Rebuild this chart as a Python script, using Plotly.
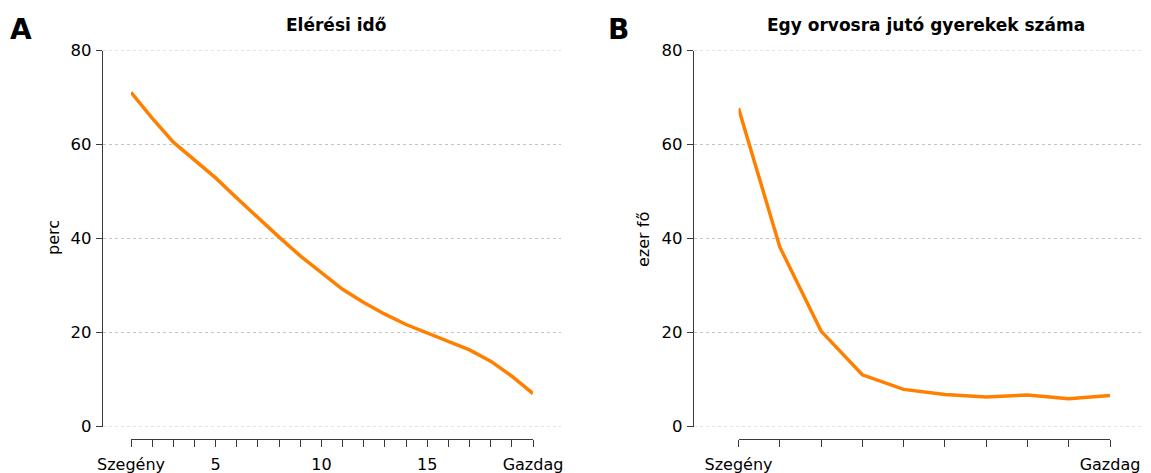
import plotly.graph_objects as go

# Panel A: travel time (minutes) by income vigintile
time_x = list(range(1, 21))
time_min = [71.1, 65.6, 60.5, 56.7, 52.9, 48.6, 44.4, 40.3, 36.3, 32.8,
            29.2, 26.4, 23.9, 21.7, 19.9, 18.3, 16.3, 13.9, 10.7, 7.0]
time_tickvals = [1, 5, 10, 15, 20]
time_ticktext = ["Szegény", "5", "10", "15", "Gazdag"]

# Panel B: children per doctor (thousand) by income decile
doc_x = list(range(1, 11))
doc_children = [67.7, 38.2, 20.3, 11.0, 7.9, 6.8, 6.3, 6.7, 5.9, 6.6]
doc_tickvals = [1, 10]
doc_ticktext = ["Szegény", "Gazdag"]

y_ticks = [0, 20, 40, 60, 80]

# the page body keeps its default 8px margin, so the figure is drawn 8px in
OFF = 8
W, H = 1151 - OFF, 473 - OFF
ORANGE = "#ff8000"
AXIS = "#3a3a3a"
FONT = "DejaVu Sans"


def fx(px):
    return (px - OFF) / W


def fy(py):
    return 1 - (py - OFF) / H


fig = go.Figure()
fig.add_trace(go.Scatter(x=time_x, y=time_min, mode="lines",
                         line=dict(color=ORANGE, width=3.5),
                         xaxis="x", yaxis="y", showlegend=False))
fig.add_trace(go.Scatter(x=doc_x, y=doc_children, mode="lines",
                         line=dict(color=ORANGE, width=3.5),
                         xaxis="x2", yaxis="y2", showlegend=False))


def xaxis_style(domain, rng, tickvals, ticktext):
    return dict(
        domain=domain, range=rng, anchor="free", position=fy(439),
        automargin=False,
        showline=True, linecolor=AXIS, linewidth=1.2,
        ticks="outside", ticklen=7, tickcolor=AXIS, tickwidth=1,
        tickvals=tickvals, ticktext=ticktext,
        minor=dict(dtick=1, tick0=1, ticks="outside", ticklen=7,
                   tickcolor=AXIS, tickwidth=1),
        ticklabelstandoff=4,
        showgrid=False, zeroline=False,
        tickfont=dict(size=16, color="black", family=FONT),
    )


def yaxis_style(pos):
    return dict(
        domain=[fy(426.5), fy(50.5)], range=[0, 80], anchor="free",
        position=pos, automargin=False,
        showline=True, linecolor=AXIS, linewidth=1.2,
        ticks="outside", ticklen=6, tickcolor=AXIS,
        tickvals=y_ticks, showgrid=False, zeroline=False,
        ticklabelstandoff=1,
        tickfont=dict(size=16.5, color="black", family=FONT),
    )


fig.update_layout(
    width=W, height=H,
    margin=dict(l=0, r=0, t=0, b=0, autoexpand=False),
    paper_bgcolor="white", plot_bgcolor="white",
    font=dict(family=FONT, color="black"),
    xaxis=xaxis_style([fx(131), fx(533)], [1, 20], time_tickvals, time_ticktext),
    yaxis=yaxis_style(fx(102)),
    xaxis2=xaxis_style([fx(738.5), fx(1110)], [1, 10], doc_tickvals, doc_ticktext),
    yaxis2=yaxis_style(fx(693)),
)

# dotted horizontal grid lines across each plot region
shapes = []
for v in y_ticks:
    shapes.append(dict(type="line", xref="paper", yref="y", x0=fx(103), x1=fx(561),
                       y0=v, y1=v, layer="below",
                       line=dict(color="#c4c4c4", width=1, dash="dot")))
    shapes.append(dict(type="line", xref="paper", yref="y2", x0=fx(694), x1=1,
                       y0=v, y1=v, layer="below",
                       line=dict(color="#c4c4c4", width=1, dash="dot")))
fig.update_layout(shapes=shapes)

annotations = [
    dict(text="<b>A</b>", x=fx(21), y=fy(29),
         font=dict(size=28, family=FONT, color="black")),
    dict(text="<b>B</b>", x=fx(618), y=fy(29),
         font=dict(size=28, family=FONT, color="black")),
    dict(text="<b>Elérési idő</b>", x=fx(336), y=fy(25),
         font=dict(size=17, family=FONT, color="black")),
    dict(text="<b>Egy orvosra jutó gyerekek száma</b>", x=fx(926), y=fy(25),
         font=dict(size=17, family=FONT, color="black")),
    dict(text="perc", x=fx(53), y=fy(238), textangle=-90,
         font=dict(size=16, family=FONT, color="black")),
    dict(text="ezer fő", x=fx(643), y=fy(240), textangle=-90,
         font=dict(size=16, family=FONT, color="black")),
]
for a in annotations:
    a.update(xref="paper", yref="paper", showarrow=False,
             xanchor="center", yanchor="middle")
fig.update_layout(annotations=annotations)

fig.write_html("out.html")
